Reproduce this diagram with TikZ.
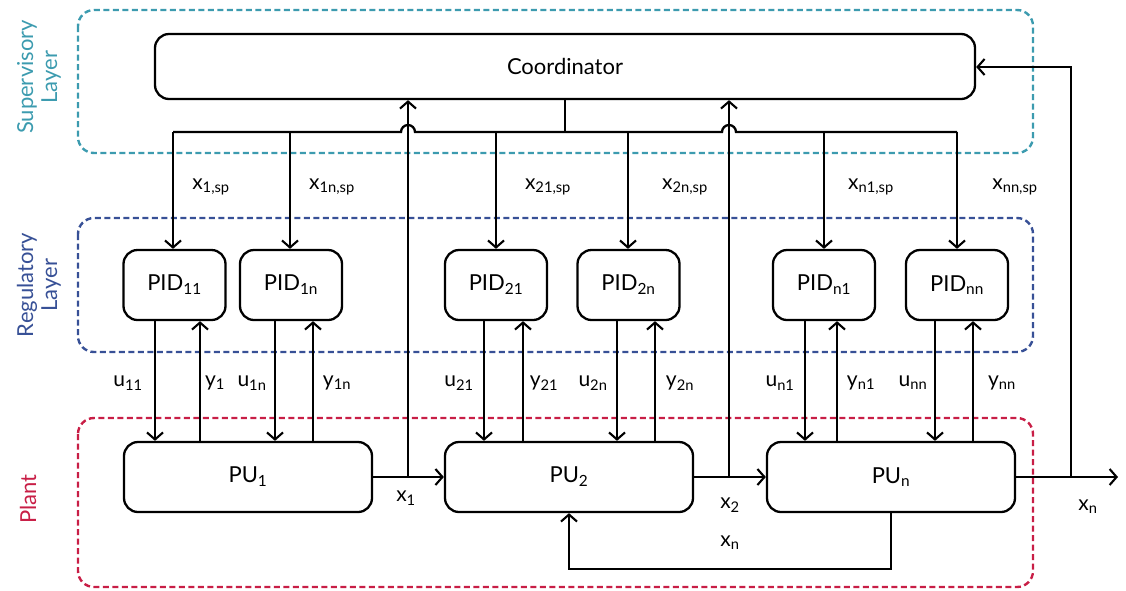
\documentclass[tikz,border=0pt]{standalone}
\usepackage{fontspec}
\setmainfont{Lato}
\usetikzlibrary{arrows.meta}
\definecolor{supc}{RGB}{60,155,175}
\definecolor{regc}{RGB}{55,80,150}
\definecolor{plac}{RGB}{200,30,70}
\begin{document}
\begin{tikzpicture}[x=1pt,y=-1pt,line width=2.3pt,
  blk/.style={draw, rounded corners=14pt, inner sep=0pt, font=\fontsize{22}{24}\selectfont},
  arr/.style={-{Straight Barb[length=7pt,width=16pt,line width=2.1pt]}},
  lbl/.style={font=\fontsize{21}{23}\selectfont, inner sep=0pt},
  layer/.style={dash pattern=on 6pt off 3.5pt, line width=2.4pt, rounded corners=16pt},
  laytxt/.style={rotate=90, align=center, font=\fontsize{22}{24}\selectfont}]
\useasboundingbox (0,0) rectangle (1126,590);
% layers
\draw[layer, supc] (78,10) rectangle (1033,153);
\draw[layer, regc] (78,218) rectangle (1033,352);
\draw[layer, plac] (78,418) rectangle (1033,587);
\node[laytxt, text=supc] (tsup) at (39,77) {Supervisory\\Layer};
\node[laytxt, text=regc] (treg) at (39,285) {Regulatory\\Layer};
\node[laytxt, text=plac] (tpla) at (28,499) {Plant};
% blocks
\node[blk, minimum width=820pt, minimum height=65pt] (coord) at (565,66.5) {Coordinator};
\foreach \n/\x/\t in {p11/174.5/11, p1n/291/1n, p21/496/21, p2n/628.5/2n, pn1/824/n1, pnn/957/nn}
  \node[blk, minimum width=102pt, minimum height=70pt] (\n) at (\x,285) {PID\textsubscript{\t}};
\node[blk, minimum width=248pt, minimum height=70pt] (pu1) at (248,477) {PU\textsubscript{1}};
\node[blk, minimum width=248pt, minimum height=70pt] (pu2) at (569,477) {PU\textsubscript{2}};
\node[blk, minimum width=248pt, minimum height=70pt] (pun) at (891,477) {PU\textsubscript{n}};
% bus
\coordinate (b11) at (173,132);
\coordinate (b1n) at (290,132);
\coordinate (b21) at (496,132);
\coordinate (b2n) at (628,132);
\coordinate (bn1) at (824,132);
\coordinate (bnn) at (957,132);
\coordinate (bc) at (565,132);
\draw (coord.south -| bc) -- (bc);
\draw (b11) -- (401,132) arc[start angle=180,end angle=360,radius=7] -- (722,132) arc[start angle=180,end angle=360,radius=7] -- (bnn);
\foreach \b/\p in {b11/p11, b1n/p1n, b21/p21, b2n/p2n, bn1/pn1, bnn/pnn}
  \draw[arr] (\b) -- (\b |- \p.north);
% setpoint labels
\node[lbl] (l1) at (211,187) {x\textsubscript{1,sp}};
\node[lbl] (l2) at (332,187) {x\textsubscript{1n,sp}};
\node[lbl] (l3) at (548,187) {x\textsubscript{21,sp}};
\node[lbl] (l4) at (685,187) {x\textsubscript{2n,sp}};
\node[lbl] (l5) at (871,187) {x\textsubscript{n1,sp}};
\node[lbl] (l6) at (1015,187) {x\textsubscript{nn,sp}};
% u and y connectors
\foreach \p/\u/\y/\pu in {p11/155/200/pu1, p1n/275/313/pu1, p21/484/523/pu2, p2n/617/655/pu2, pn1/805/837/pun, pnn/935/973/pun}{
  \draw[arr] (\u,0 |- \p.south) -- (\u,0 |- \pu.north);
  \draw[arr] (\y,0 |- \pu.north) -- (\y,0 |- \p.south);
}
\node[lbl] at (128,383) {u\textsubscript{11}};
\node[lbl] at (215,383) {y\textsubscript{1}};
\node[lbl] at (252,383) {u\textsubscript{1n}};
\node[lbl] at (337,383) {y\textsubscript{1n}};
\node[lbl] at (459,383) {u\textsubscript{21}};
\node[lbl] at (544,383) {y\textsubscript{21}};
\node[lbl] at (593,383) {u\textsubscript{2n}};
\node[lbl] at (680,383) {y\textsubscript{2n}};
\node[lbl] at (780,383) {u\textsubscript{n1}};
\node[lbl] at (861,383) {y\textsubscript{n1}};
\node[lbl] at (913,383) {u\textsubscript{nn}};
\node[lbl] at (1002,383) {y\textsubscript{nn}};
% plant flows
\coordinate (j1) at (408,477);
\coordinate (j2) at (729,477);
\coordinate (j3) at (1071,477);
\coordinate (out) at (1118,477);
\draw[arr] (pu1.east) -- (pu2.west);
\draw[arr] (pu2.east) -- (pun.west);
\draw[arr] (pun.east) -- (out);
\draw[arr] (j1) -- (j1 |- coord.south);
\draw[arr] (j2) -- (j2 |- coord.south);
\draw[arr] (j3) -- (1071,67) -- (coord.east |- 0,67);
\coordinate (fb) at (891,569);
\draw[arr] (pun.south) -- (fb) -- (pu2.south |- fb) -- (pu2.south);
\node[lbl] (lx1) at (406,498) {x\textsubscript{1}};
\node[lbl] (lx2) at (730,505) {x\textsubscript{2}};
\node[lbl] (lxn) at (730,543) {x\textsubscript{n}};
\node[lbl] (lxo) at (1088,507) {x\textsubscript{n}};
\end{tikzpicture}
\end{document}
